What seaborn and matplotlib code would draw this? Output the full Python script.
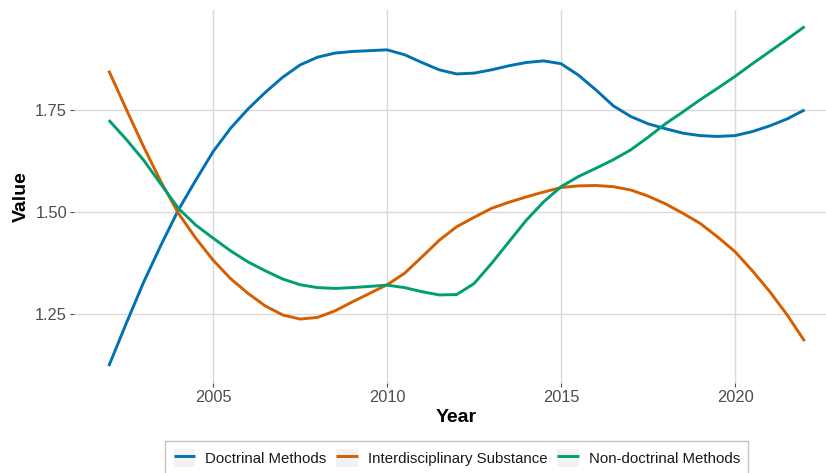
import matplotlib
matplotlib.use("Agg")
import matplotlib.pyplot as plt
from matplotlib.lines import Line2D
from matplotlib.patches import Rectangle
from matplotlib.legend_handler import HandlerLine2D
import seaborn as sns
import pandas as pd

years = [2002, 2002.5, 2003, 2003.5, 2004, 2004.5, 2005, 2005.5, 2006, 2006.5, 2007,
         2007.5, 2008, 2008.5, 2009, 2009.5, 2010, 2010.5, 2011, 2011.5, 2012,
         2012.5, 2013, 2013.5, 2014, 2014.5, 2015, 2015.5, 2016, 2016.5, 2017,
         2017.5, 2018, 2018.5, 2019, 2019.5, 2020, 2020.5, 2021, 2021.5, 2022]
doctrinal = [1.123, 1.227, 1.328, 1.419, 1.505, 1.578, 1.648, 1.705, 1.752, 1.793, 1.830,
             1.860, 1.879, 1.889, 1.893, 1.895, 1.897, 1.885, 1.866, 1.848, 1.838,
             1.840, 1.848, 1.858, 1.866, 1.870, 1.863, 1.835, 1.799, 1.760, 1.734,
             1.716, 1.704, 1.693, 1.687, 1.685, 1.687, 1.697, 1.711, 1.728, 1.750]
interdisciplinary = [1.846, 1.752, 1.660, 1.574, 1.497, 1.436, 1.382, 1.337, 1.301, 1.270, 1.248,
                     1.238, 1.242, 1.258, 1.280, 1.301, 1.322, 1.350, 1.390, 1.431, 1.464,
                     1.487, 1.509, 1.524, 1.537, 1.549, 1.560, 1.564, 1.565, 1.562, 1.554,
                     1.539, 1.520, 1.497, 1.472, 1.439, 1.403, 1.356, 1.305, 1.248, 1.184]
nondoctrinal = [1.725, 1.678, 1.627, 1.568, 1.509, 1.468, 1.436, 1.405, 1.378, 1.356, 1.336,
                1.322, 1.315, 1.313, 1.315, 1.318, 1.321, 1.315, 1.305, 1.297, 1.298,
                1.325, 1.374, 1.427, 1.480, 1.525, 1.562, 1.587, 1.607, 1.628, 1.652,
                1.683, 1.716, 1.745, 1.775, 1.803, 1.832, 1.863, 1.893, 1.923, 1.954]
series_names = ["Doctrinal Methods", "Interdisciplinary Substance", "Non-doctrinal Methods"]
colors = ["#0072B2", "#D55E00", "#009E73"]
x_ticks = [2005, 2010, 2015, 2020]
y_ticks = [1.25, 1.50, 1.75]

rows = []
for name, vals in zip(series_names, [doctrinal, interdisciplinary, nondoctrinal]):
    for yr, v in zip(years, vals):
        rows.append({"Year": yr, "Value": v, "Series": name})
df = pd.DataFrame(rows)

sns.set_theme(style="white")
plt.rcParams["font.family"] = ["Liberation Sans", "DejaVu Sans"]

W, H = 826, 473
fig = plt.figure(figsize=(W / 100, H / 100), dpi=100)
x0, x1 = 74.0, 839.4
ytop, ybot = 10.0, 383.0
ax = fig.add_axes([x0 / W, 1 - ybot / H, (x1 - x0) / W, (ybot - ytop) / H])

sns.lineplot(data=df, x="Year", y="Value", hue="Series", hue_order=series_names,
             palette=colors, linewidth=2.1, ax=ax, legend=True)
for ln in ax.get_lines():
    ln.set_solid_joinstyle("round")
    ln.set_solid_capstyle("butt")

ax.set_xlim(2001, 2023)
ax.set_ylim(1.0815, 1.9945)
ax.set_xticks(x_ticks)
ax.set_xticklabels([str(t) for t in x_ticks])
ax.set_yticks(y_ticks)
ax.set_yticklabels(["%.2f" % t for t in y_ticks])
ax.grid(True, color="#D9D9D9", linewidth=1.0)
ax.set_axisbelow(True)
for s in ax.spines.values():
    s.set_visible(False)
ax.tick_params(axis="both", which="major", length=3, width=0.8, color="#4D4D4D",
               labelcolor="#4D4D4D", labelsize=11.8, pad=2)
ax.tick_params(axis="x", bottom=True)
ax.tick_params(axis="y", left=True)
ax.set_xlabel("Year", fontsize=14, fontweight="bold", color="black", labelpad=3)
ax.set_ylabel("Value", fontsize=14, fontweight="bold", color="black", labelpad=4)

handles, labels = ax.get_legend_handles_labels()
ax.get_legend().remove()


class KeyHandler(HandlerLine2D):
    def create_artists(self, legend, orig_handle, xdescent, ydescent, width, height, fontsize, trans):
        arts = super().create_artists(legend, orig_handle, xdescent, ydescent, width, height, fontsize, trans)
        rect = Rectangle((-xdescent, -ydescent), width, height, facecolor="#F2F2F2",
                         edgecolor="none", transform=trans)
        return [rect] + list(arts)


leg = fig.legend(handles, labels, loc="center", bbox_to_anchor=((x0 + x1) / 2 / W, 1 - 458 / H),
                 ncol=3, frameon=True, fancybox=False, fontsize=10.8,
                 handlelength=1.45, handleheight=1.45, handletextpad=0.65, columnspacing=0.65,
                 borderpad=0.55, borderaxespad=0, handler_map={Line2D: KeyHandler()})
leg.get_frame().set_edgecolor("#B3B3B3")
leg.get_frame().set_linewidth(1.0)
for t in leg.get_texts():
    t.set_color("#1A1A1A")

fig.savefig("out.png", dpi=100)
